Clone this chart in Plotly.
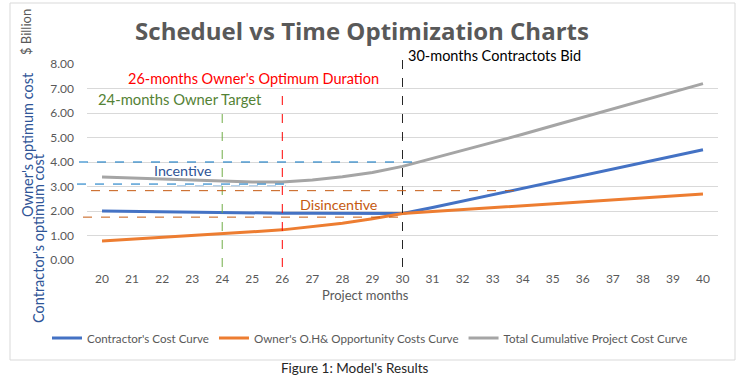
import plotly.graph_objects as go

# ---------------- data ----------------
months = list(range(20, 41))
contractor_cost = [2.00, 1.98, 1.96, 1.94, 1.93, 1.92, 1.91, 1.91, 1.90, 1.88, 1.90,
                   2.14, 2.40, 2.66, 2.92, 3.18, 3.45, 3.72, 3.98, 4.24, 4.50]
owner_cost = [0.78, 0.85, 0.93, 1.01, 1.09, 1.15, 1.23, 1.35, 1.50, 1.68, 1.90,
              1.98, 2.06, 2.14, 2.22, 2.30, 2.38, 2.46, 2.54, 2.62, 2.69]
total_cost = [3.39, 3.35, 3.31, 3.26, 3.21, 3.18, 3.18, 3.27, 3.40, 3.57, 3.82,
              4.15, 4.45, 4.79, 5.13, 5.48, 5.82, 6.17, 6.51, 6.86, 7.20]
series_names = ["Contractor's Cost Curve", "Owner's O.H& Opportunity Costs Curve",
                "Total Cumulative Project Cost Curve"]
series_colors = ["#4472C4", "#ED7D31", "#A5A5A5"]
y_ticks = [0, 1, 2, 3, 4, 5, 6, 7, 8]

# reference months / cost levels for the guide lines
bid_month, optimum_month, target_month = 30, 26, 24
incentive_upper, incentive_lower, incentive_lower2 = 4.0, 3.1, 3.03
disincentive_upper, disincentive_lower = 2.83, 1.75

# ---------------- layout helpers (pixel -> paper) ----------------
W, H = 744, 379
L, R, T, B = 87, 718, 64, 260


def px(x):
    return (x - L) / (R - L)


def py(y):
    return (B - y) / (B - T)


FONT = "Lato"
GREY = "#595959"

fig = go.Figure()
for name, vals, col in zip(series_names, [contractor_cost, owner_cost, total_cost], series_colors):
    fig.add_trace(go.Scatter(x=months, y=vals, mode="lines", name=name,
                             line=dict(color=col, width=3)))

shapes = []
# chart-area border
shapes.append(dict(type="rect", xref="paper", yref="paper", x0=px(10), x1=px(735),
                   y0=py(360), y1=py(3), line=dict(color="#D9D9D9", width=1),
                   fillcolor="rgba(0,0,0,0)", layer="below"))
# vertical guides
for m, top, col in [(target_month, 112, "#70AD47"), (optimum_month, 88, "#FF0000"),
                    (bid_month, 60, "#262626")]:
    shapes.append(dict(type="line", xref="x", yref="paper", x0=m, x1=m,
                       y0=py(267), y1=py(top), line=dict(color=col, width=1, dash="dash")))
# horizontal guides
for lvl, xa, xb, col in [(incentive_upper, 79, 415, "#0070C0"),
                         (incentive_lower, 77, 286, "#0070C0"),
                         (incentive_lower2, 177, 286, "#9DC3E6"),
                         (disincentive_upper, 91, 522, "#C55A11"),
                         (disincentive_lower, 83, 403, "#C55A11")]:
    shapes.append(dict(type="line", xref="paper", yref="y", x0=px(xa), x1=px(xb),
                       y0=lvl, y1=lvl, line=dict(color=col, width=1, dash="dash")))

annotations = []


def note(text, x, y, color, size, xanchor="left", angle=0):
    annotations.append(dict(text=text, xref="paper", yref="paper", x=px(x), y=py(y),
                            xanchor=xanchor, yanchor="middle", showarrow=False,
                            textangle=angle, font=dict(family=FONT, size=size, color=color)))


note("30-months Contractots Bid", 406, 56, "#000000", 14.5)
note("26-months Owner's Optimum Duration", 126, 78, "#FF0000", 14.5)
note("24-months Owner Target", 96, 99, "#548235", 14.8)
note("Incentive", 183, 170, "#2F5597", 14.3, xanchor="center")
note("Disincentive", 338, 204, "#C55A11", 14.3, xanchor="center")
note("Project months", 365, 295, GREY, 13, xanchor="center")
note("$ Billion", 26, 32, GREY, 13, xanchor="center", angle=-90)
note("Owner's optimum cost", 27, 145, "#2F5597", 14.5, xanchor="center", angle=-90)
note("Contractor's optimum cost", 38, 238, "#2F5597", 14.5, xanchor="center", angle=-90)
note("Figure 1: Model's Results", 355, 368, "#262626", 13.5, xanchor="center")

fig.update_layout(
    width=W, height=H,
    margin=dict(l=L, r=W - R, t=T, b=H - B, pad=0, autoexpand=False),
    paper_bgcolor="white", plot_bgcolor="white",
    title=dict(text="<b>Scheduel vs Time Optimization Charts</b>", xref="container",
               yref="container", x=362 / W, y=1 - 32 / H, xanchor="center", yanchor="middle",
               font=dict(family="Open Sans", size=24, color=GREY)),
    xaxis=dict(range=[19.5, 40.5], tickmode="array", tickvals=months,
               ticktext=[str(m) for m in months], showgrid=False, zeroline=False,
               showline=False, ticks="", ticklabelstandoff=10,
               tickfont=dict(family=FONT, size=12, color=GREY)),
    yaxis=dict(range=[0, 8], tickmode="array", tickvals=y_ticks,
               ticktext=[f"{v:.2f}" for v in y_ticks], showgrid=True,
               gridcolor="#D9D9D9", gridwidth=1, zeroline=False, showline=False,
               ticks="", ticklabelstandoff=12,
               tickfont=dict(family=FONT, size=12, color=GREY)),
    legend=dict(orientation="h", xref="paper", yref="paper",
                x=px(47), xanchor="left", y=py(338), yanchor="middle",
                font=dict(family=FONT, size=11.6, color=GREY), itemwidth=30,
                tracegroupgap=0, bgcolor="rgba(0,0,0,0)"),
    shapes=shapes, annotations=annotations, showlegend=True,
)

fig.write_html("out.html", config={"displayModeBar": False},
               post_script="document.body.style.margin='0px';")
